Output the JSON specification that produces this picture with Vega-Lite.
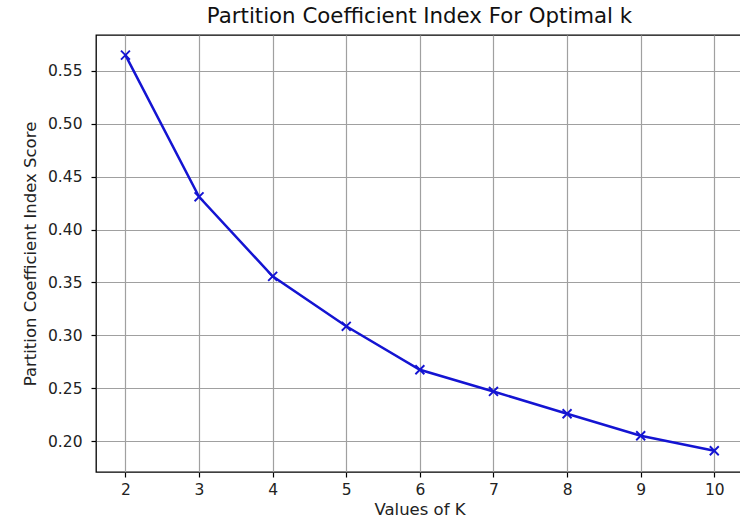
{
  "$schema": "https://vega.github.io/schema/vega-lite/v6.json",
  "width": 647,
  "height": 437,
  "autosize": "none",
  "padding": {"left": 96, "top": 35, "right": 0, "bottom": 48},
  "background": "white",
  "title": {
    "text": "Partition Coefficient Index For Optimal k",
    "font": "DejaVu Sans",
    "fontSize": 21.3,
    "fontWeight": "normal",
    "color": "#111",
    "offset": 8
  },
  "config": {
    "view": {"stroke": "black", "strokeWidth": 1.3},
    "axis": {
      "labelFont": "DejaVu Sans",
      "labelFontSize": 15.5,
      "labelColor": "#222",
      "titleFont": "DejaVu Sans",
      "titleFontSize": 16.5,
      "titleFontWeight": "normal",
      "titleColor": "#222",
      "grid": true,
      "gridColor": "#a0a0a0",
      "gridWidth": 1.2,
      "domain": false,
      "tickColor": "black",
      "tickSize": 5,
      "tickWidth": 1.2
    }
  },
  "data": {
    "values": [
      {"k": 2, "score": 0.565},
      {"k": 3, "score": 0.431},
      {"k": 4, "score": 0.3557},
      {"k": 5, "score": 0.3085},
      {"k": 6, "score": 0.2674},
      {"k": 7, "score": 0.2469},
      {"k": 8, "score": 0.2258},
      {"k": 9, "score": 0.205},
      {"k": 10, "score": 0.1908}
    ]
  },
  "encoding": {
    "x": {
      "field": "k",
      "type": "quantitative",
      "scale": {"domain": [1.6, 10.39], "nice": false, "zero": false},
      "axis": {"values": [2, 3, 4, 5, 6, 7, 8, 9, 10], "title": "Values of K", "titlePadding": 4, "labelPadding": 5, "labelFlush": false}
    },
    "y": {
      "field": "score",
      "type": "quantitative",
      "scale": {"domain": [0.1707, 0.584], "nice": false, "zero": false},
      "axis": {"values": [0.2, 0.25, 0.3, 0.35, 0.4, 0.45, 0.5, 0.55], "format": ".2f", "title": "Partition Coefficient Index Score", "titlePadding": 9, "labelPadding": 9, "labelFlush": false}
    }
  },
  "layer": [
    {"mark": {"type": "line", "color": "#1414d2", "strokeWidth": 2.5}},
    {"mark": {"type": "point", "shape": "M-1,-1L1,1M-1,1L1,-1", "filled": false, "color": "#1414d2", "strokeWidth": 1.9, "size": 80, "opacity": 1}}
  ]
}
